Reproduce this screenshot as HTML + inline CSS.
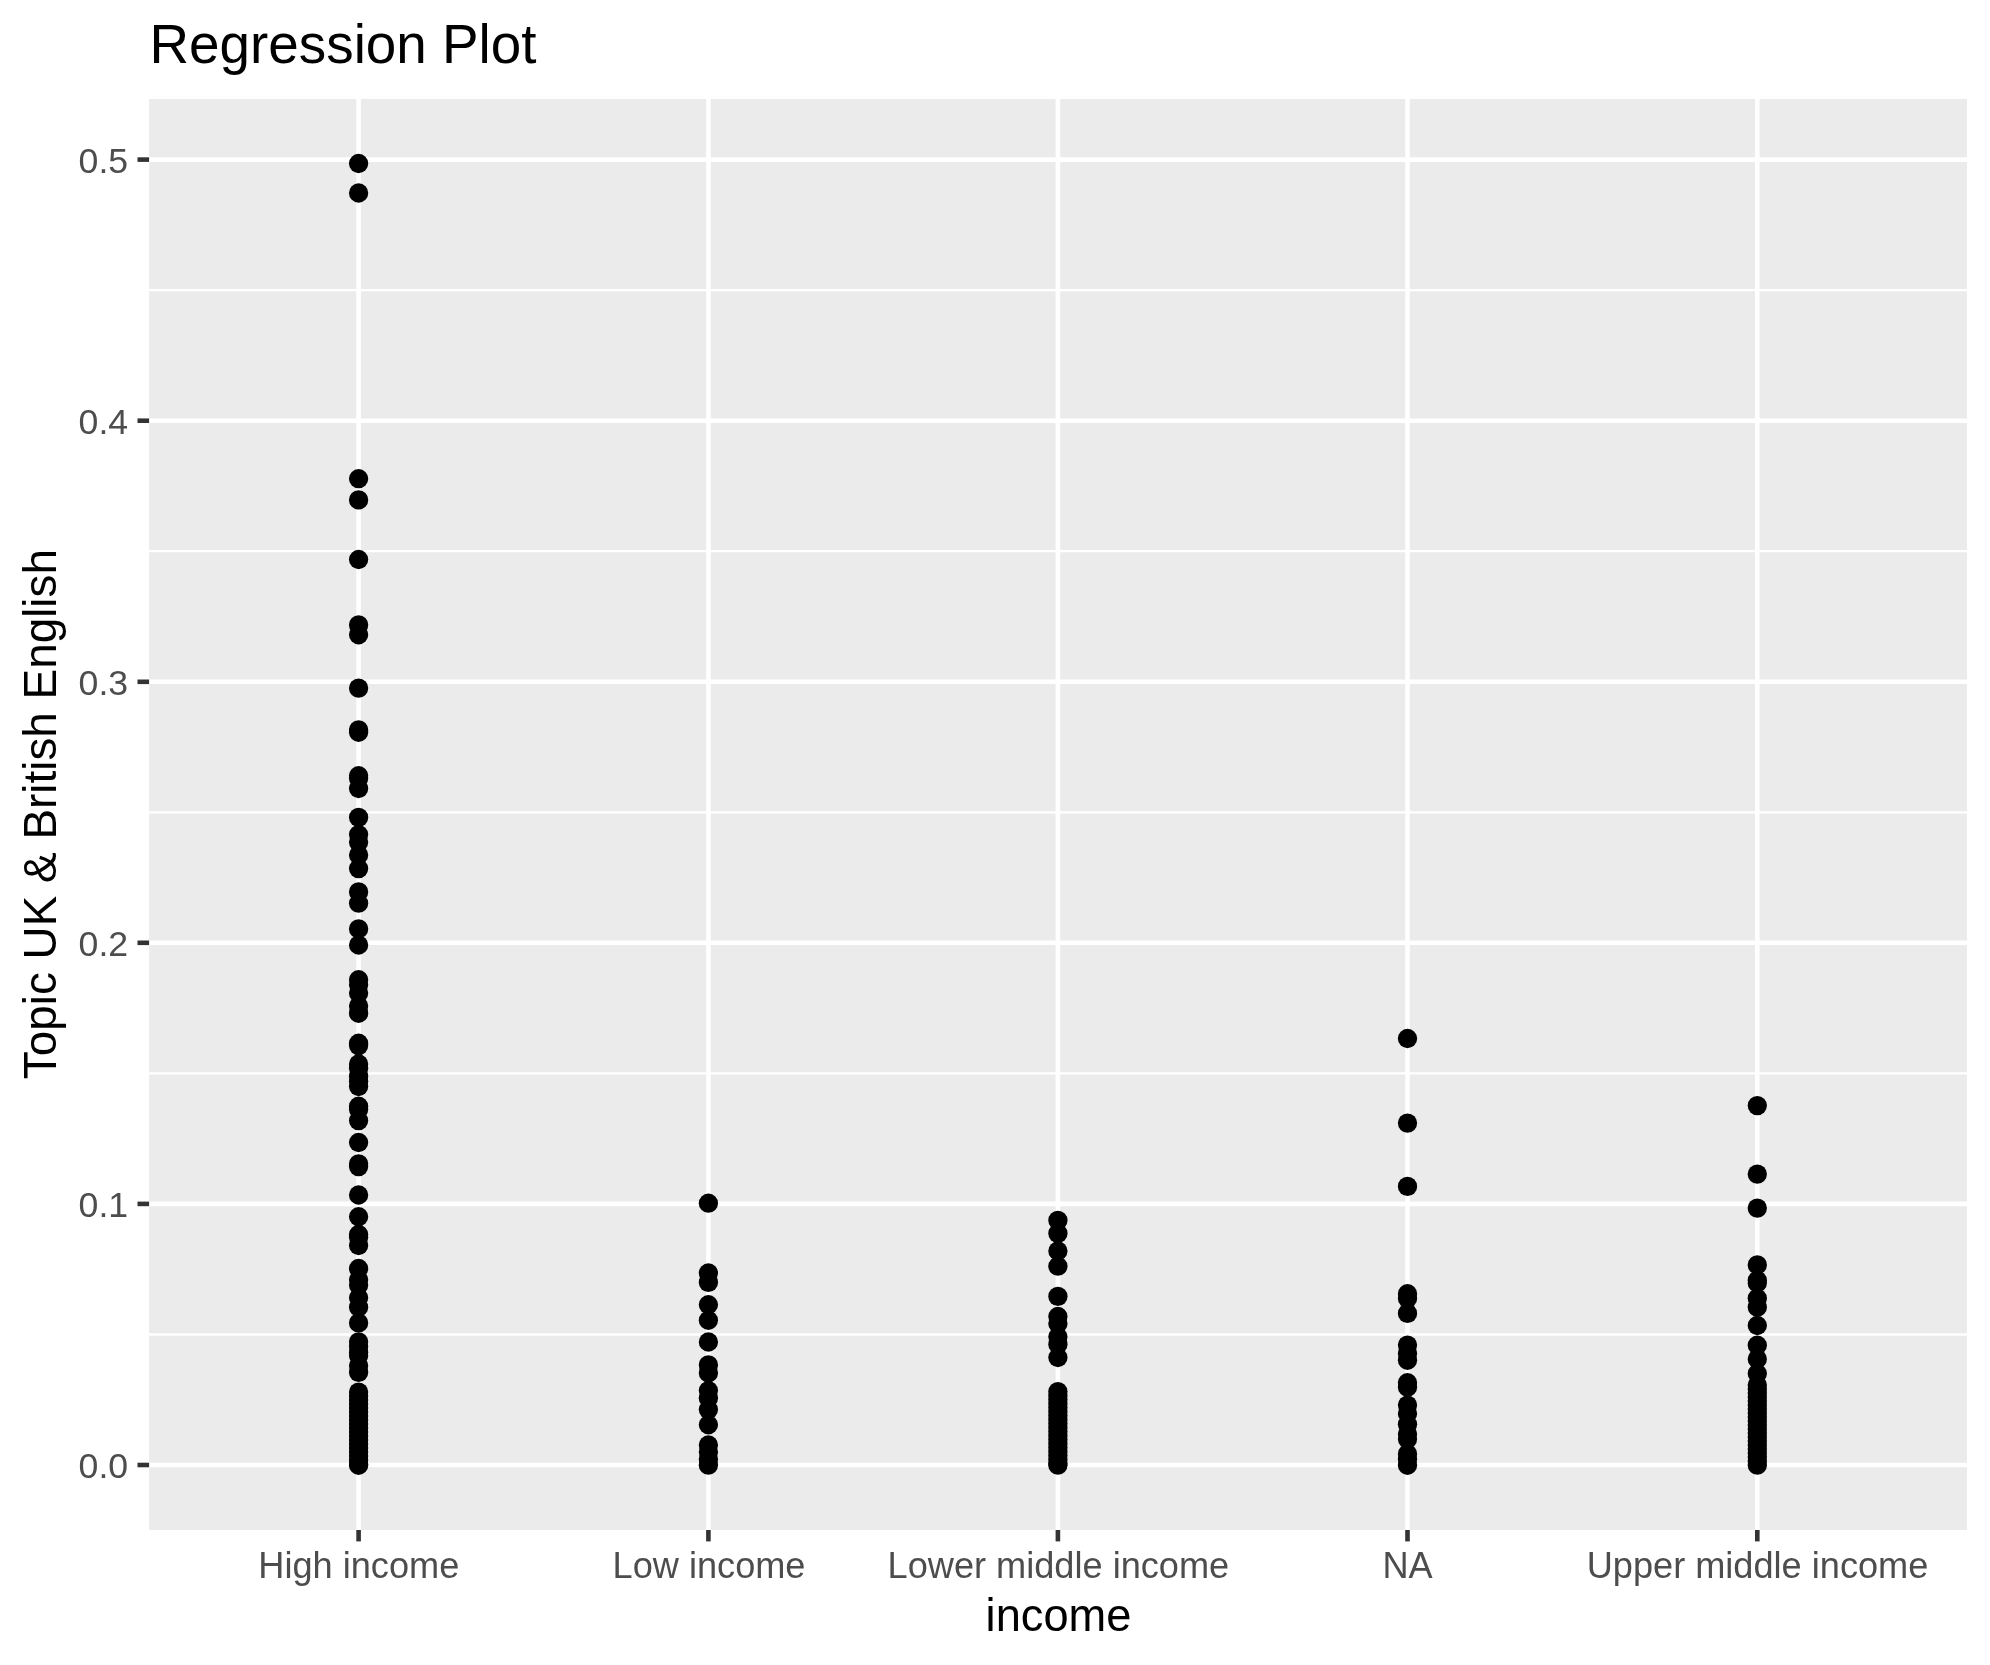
<!DOCTYPE html>
<html><head><meta charset="utf-8"><title>Regression Plot</title>
<style>
html,body{margin:0;padding:0;background:#fff;}
body{width:1990px;height:1665px;overflow:hidden;}
svg{display:block;filter:grayscale(1);}
text{font-family:"Liberation Sans",sans-serif;}
.ax{font-size:36.67px;fill:#4d4d4d;}
.tt{font-size:45.83px;fill:#000;}
.ti{font-size:55px;fill:#000;}
</style></head><body>
<svg width="1990" height="1665" viewBox="0 0 1990 1665">
<rect x="0" y="0" width="1990" height="1665" fill="#ffffff"/>
<rect x="149.1" y="99.0" width="1817.9" height="1431.0" fill="#ebebeb"/>
<g stroke="#ffffff" stroke-width="2.30">
<line x1="149.1" x2="1967.0" y1="1334.5" y2="1334.5"/>
<line x1="149.1" x2="1967.0" y1="1073.4" y2="1073.4"/>
<line x1="149.1" x2="1967.0" y1="812.3" y2="812.3"/>
<line x1="149.1" x2="1967.0" y1="551.2" y2="551.2"/>
<line x1="149.1" x2="1967.0" y1="290.1" y2="290.1"/>
</g>
<g stroke="#ffffff" stroke-width="4.60">
<line x1="149.1" x2="1967.0" y1="1465.0" y2="1465.0"/>
<line x1="149.1" x2="1967.0" y1="1203.9" y2="1203.9"/>
<line x1="149.1" x2="1967.0" y1="942.8" y2="942.8"/>
<line x1="149.1" x2="1967.0" y1="681.8" y2="681.8"/>
<line x1="149.1" x2="1967.0" y1="420.7" y2="420.7"/>
<line x1="149.1" x2="1967.0" y1="159.6" y2="159.6"/>
<line x1="358.6" x2="358.6" y1="99.0" y2="1530.0"/>
<line x1="708.4" x2="708.4" y1="99.0" y2="1530.0"/>
<line x1="1057.9" x2="1057.9" y1="99.0" y2="1530.0"/>
<line x1="1407.5" x2="1407.5" y1="99.0" y2="1530.0"/>
<line x1="1757.3" x2="1757.3" y1="99.0" y2="1530.0"/>
</g>
<g fill="#000000">
<circle cx="358.6" cy="163.5" r="9.65"/>
<circle cx="358.6" cy="193.0" r="9.65"/>
<circle cx="358.6" cy="478.7" r="9.65"/>
<circle cx="358.6" cy="499.9" r="9.65"/>
<circle cx="358.6" cy="559.5" r="9.65"/>
<circle cx="358.6" cy="624.9" r="9.65"/>
<circle cx="358.6" cy="634.8" r="9.65"/>
<circle cx="358.6" cy="688.1" r="9.65"/>
<circle cx="358.6" cy="729.9" r="9.65"/>
<circle cx="358.6" cy="732.3" r="9.65"/>
<circle cx="358.6" cy="775.7" r="9.65"/>
<circle cx="358.6" cy="778.5" r="9.65"/>
<circle cx="358.6" cy="788.5" r="9.65"/>
<circle cx="358.6" cy="817.4" r="9.65"/>
<circle cx="358.6" cy="834.6" r="9.65"/>
<circle cx="358.6" cy="842.1" r="9.65"/>
<circle cx="358.6" cy="855.0" r="9.65"/>
<circle cx="358.6" cy="868.6" r="9.65"/>
<circle cx="358.6" cy="891.9" r="9.65"/>
<circle cx="358.6" cy="903.2" r="9.65"/>
<circle cx="358.6" cy="928.9" r="9.65"/>
<circle cx="358.6" cy="945.0" r="9.65"/>
<circle cx="358.6" cy="979.7" r="9.65"/>
<circle cx="358.6" cy="984.8" r="9.65"/>
<circle cx="358.6" cy="993.0" r="9.65"/>
<circle cx="358.6" cy="1006.1" r="9.65"/>
<circle cx="358.6" cy="1013.3" r="9.65"/>
<circle cx="358.6" cy="1043.2" r="9.65"/>
<circle cx="358.6" cy="1045.6" r="9.65"/>
<circle cx="358.6" cy="1064.0" r="9.65"/>
<circle cx="358.6" cy="1068.2" r="9.65"/>
<circle cx="358.6" cy="1076.2" r="9.65"/>
<circle cx="358.6" cy="1081.2" r="9.65"/>
<circle cx="358.6" cy="1086.5" r="9.65"/>
<circle cx="358.6" cy="1106.2" r="9.65"/>
<circle cx="358.6" cy="1109.4" r="9.65"/>
<circle cx="358.6" cy="1120.6" r="9.65"/>
<circle cx="358.6" cy="1142.5" r="9.65"/>
<circle cx="358.6" cy="1163.8" r="9.65"/>
<circle cx="358.6" cy="1166.6" r="9.65"/>
<circle cx="358.6" cy="1195.0" r="9.65"/>
<circle cx="358.6" cy="1216.7" r="9.65"/>
<circle cx="358.6" cy="1234.5" r="9.65"/>
<circle cx="358.6" cy="1237.2" r="9.65"/>
<circle cx="358.6" cy="1245.5" r="9.65"/>
<circle cx="358.6" cy="1268.5" r="9.65"/>
<circle cx="358.6" cy="1279.7" r="9.65"/>
<circle cx="358.6" cy="1285.1" r="9.65"/>
<circle cx="358.6" cy="1297.8" r="9.65"/>
<circle cx="358.6" cy="1307.3" r="9.65"/>
<circle cx="358.6" cy="1322.9" r="9.65"/>
<circle cx="358.6" cy="1341.8" r="9.65"/>
<circle cx="358.6" cy="1346.6" r="9.65"/>
<circle cx="358.6" cy="1352.2" r="9.65"/>
<circle cx="358.6" cy="1355.7" r="9.65"/>
<circle cx="358.6" cy="1365.8" r="9.65"/>
<circle cx="358.6" cy="1372.4" r="9.65"/>
<circle cx="358.6" cy="1392.1" r="9.65"/>
<circle cx="358.6" cy="1396.1" r="9.65"/>
<circle cx="358.6" cy="1400.1" r="9.65"/>
<circle cx="358.6" cy="1404.1" r="9.65"/>
<circle cx="358.6" cy="1408.1" r="9.65"/>
<circle cx="358.6" cy="1412.1" r="9.65"/>
<circle cx="358.6" cy="1416.1" r="9.65"/>
<circle cx="358.6" cy="1420.1" r="9.65"/>
<circle cx="358.6" cy="1424.1" r="9.65"/>
<circle cx="358.6" cy="1428.1" r="9.65"/>
<circle cx="358.6" cy="1432.1" r="9.65"/>
<circle cx="358.6" cy="1436.1" r="9.65"/>
<circle cx="358.6" cy="1440.1" r="9.65"/>
<circle cx="358.6" cy="1444.1" r="9.65"/>
<circle cx="358.6" cy="1448.1" r="9.65"/>
<circle cx="358.6" cy="1452.1" r="9.65"/>
<circle cx="358.6" cy="1456.1" r="9.65"/>
<circle cx="358.6" cy="1460.1" r="9.65"/>
<circle cx="358.6" cy="1464.1" r="9.65"/>
<circle cx="358.6" cy="1465.3" r="9.65"/>
<circle cx="708.4" cy="1203.2" r="9.65"/>
<circle cx="708.4" cy="1273.0" r="9.65"/>
<circle cx="708.4" cy="1282.4" r="9.65"/>
<circle cx="708.4" cy="1304.7" r="9.65"/>
<circle cx="708.4" cy="1320.3" r="9.65"/>
<circle cx="708.4" cy="1342.0" r="9.65"/>
<circle cx="708.4" cy="1364.9" r="9.65"/>
<circle cx="708.4" cy="1372.9" r="9.65"/>
<circle cx="708.4" cy="1390.6" r="9.65"/>
<circle cx="708.4" cy="1398.2" r="9.65"/>
<circle cx="708.4" cy="1409.6" r="9.65"/>
<circle cx="708.4" cy="1424.8" r="9.65"/>
<circle cx="708.4" cy="1445.0" r="9.65"/>
<circle cx="708.4" cy="1452.0" r="9.65"/>
<circle cx="708.4" cy="1459.6" r="9.65"/>
<circle cx="708.4" cy="1465.2" r="9.65"/>
<circle cx="1057.9" cy="1220.4" r="9.65"/>
<circle cx="1057.9" cy="1233.4" r="9.65"/>
<circle cx="1057.9" cy="1251.0" r="9.65"/>
<circle cx="1057.9" cy="1266.2" r="9.65"/>
<circle cx="1057.9" cy="1296.4" r="9.65"/>
<circle cx="1057.9" cy="1316.5" r="9.65"/>
<circle cx="1057.9" cy="1323.7" r="9.65"/>
<circle cx="1057.9" cy="1336.8" r="9.65"/>
<circle cx="1057.9" cy="1344.4" r="9.65"/>
<circle cx="1057.9" cy="1357.5" r="9.65"/>
<circle cx="1057.9" cy="1391.6" r="9.65"/>
<circle cx="1057.9" cy="1395.6" r="9.65"/>
<circle cx="1057.9" cy="1399.6" r="9.65"/>
<circle cx="1057.9" cy="1403.6" r="9.65"/>
<circle cx="1057.9" cy="1407.6" r="9.65"/>
<circle cx="1057.9" cy="1411.6" r="9.65"/>
<circle cx="1057.9" cy="1415.6" r="9.65"/>
<circle cx="1057.9" cy="1419.6" r="9.65"/>
<circle cx="1057.9" cy="1423.6" r="9.65"/>
<circle cx="1057.9" cy="1427.6" r="9.65"/>
<circle cx="1057.9" cy="1431.6" r="9.65"/>
<circle cx="1057.9" cy="1435.6" r="9.65"/>
<circle cx="1057.9" cy="1439.6" r="9.65"/>
<circle cx="1057.9" cy="1443.6" r="9.65"/>
<circle cx="1057.9" cy="1447.6" r="9.65"/>
<circle cx="1057.9" cy="1451.6" r="9.65"/>
<circle cx="1057.9" cy="1455.6" r="9.65"/>
<circle cx="1057.9" cy="1459.6" r="9.65"/>
<circle cx="1057.9" cy="1463.6" r="9.65"/>
<circle cx="1057.9" cy="1465.2" r="9.65"/>
<circle cx="1407.5" cy="1038.5" r="9.65"/>
<circle cx="1407.5" cy="1123.1" r="9.65"/>
<circle cx="1407.5" cy="1186.4" r="9.65"/>
<circle cx="1407.5" cy="1293.7" r="9.65"/>
<circle cx="1407.5" cy="1298.4" r="9.65"/>
<circle cx="1407.5" cy="1313.4" r="9.65"/>
<circle cx="1407.5" cy="1345.1" r="9.65"/>
<circle cx="1407.5" cy="1353.6" r="9.65"/>
<circle cx="1407.5" cy="1360.3" r="9.65"/>
<circle cx="1407.5" cy="1382.7" r="9.65"/>
<circle cx="1407.5" cy="1387.2" r="9.65"/>
<circle cx="1407.5" cy="1405.1" r="9.65"/>
<circle cx="1407.5" cy="1413.7" r="9.65"/>
<circle cx="1407.5" cy="1424.2" r="9.65"/>
<circle cx="1407.5" cy="1434.0" r="9.65"/>
<circle cx="1407.5" cy="1439.1" r="9.65"/>
<circle cx="1407.5" cy="1453.9" r="9.65"/>
<circle cx="1407.5" cy="1459.3" r="9.65"/>
<circle cx="1407.5" cy="1465.3" r="9.65"/>
<circle cx="1757.3" cy="1105.6" r="9.65"/>
<circle cx="1757.3" cy="1174.1" r="9.65"/>
<circle cx="1757.3" cy="1208.1" r="9.65"/>
<circle cx="1757.3" cy="1264.9" r="9.65"/>
<circle cx="1757.3" cy="1280.3" r="9.65"/>
<circle cx="1757.3" cy="1283.0" r="9.65"/>
<circle cx="1757.3" cy="1298.4" r="9.65"/>
<circle cx="1757.3" cy="1307.2" r="9.65"/>
<circle cx="1757.3" cy="1325.5" r="9.65"/>
<circle cx="1757.3" cy="1345.2" r="9.65"/>
<circle cx="1757.3" cy="1359.0" r="9.65"/>
<circle cx="1757.3" cy="1373.6" r="9.65"/>
<circle cx="1757.3" cy="1385.0" r="9.65"/>
<circle cx="1757.3" cy="1389.0" r="9.65"/>
<circle cx="1757.3" cy="1393.0" r="9.65"/>
<circle cx="1757.3" cy="1397.0" r="9.65"/>
<circle cx="1757.3" cy="1401.0" r="9.65"/>
<circle cx="1757.3" cy="1405.0" r="9.65"/>
<circle cx="1757.3" cy="1409.0" r="9.65"/>
<circle cx="1757.3" cy="1413.0" r="9.65"/>
<circle cx="1757.3" cy="1417.0" r="9.65"/>
<circle cx="1757.3" cy="1421.0" r="9.65"/>
<circle cx="1757.3" cy="1425.0" r="9.65"/>
<circle cx="1757.3" cy="1429.0" r="9.65"/>
<circle cx="1757.3" cy="1433.0" r="9.65"/>
<circle cx="1757.3" cy="1437.0" r="9.65"/>
<circle cx="1757.3" cy="1441.0" r="9.65"/>
<circle cx="1757.3" cy="1445.0" r="9.65"/>
<circle cx="1757.3" cy="1449.0" r="9.65"/>
<circle cx="1757.3" cy="1453.0" r="9.65"/>
<circle cx="1757.3" cy="1457.0" r="9.65"/>
<circle cx="1757.3" cy="1461.0" r="9.65"/>
<circle cx="1757.3" cy="1465.2" r="9.65"/>
</g>
<g stroke="#333333" stroke-width="4.60">
<line x1="137.5" x2="149.1" y1="1465.0" y2="1465.0"/>
<line x1="137.5" x2="149.1" y1="1203.9" y2="1203.9"/>
<line x1="137.5" x2="149.1" y1="942.8" y2="942.8"/>
<line x1="137.5" x2="149.1" y1="681.8" y2="681.8"/>
<line x1="137.5" x2="149.1" y1="420.7" y2="420.7"/>
<line x1="137.5" x2="149.1" y1="159.6" y2="159.6"/>
<line x1="358.6" x2="358.6" y1="1530.0" y2="1541.4"/>
<line x1="708.4" x2="708.4" y1="1530.0" y2="1541.4"/>
<line x1="1057.9" x2="1057.9" y1="1530.0" y2="1541.4"/>
<line x1="1407.5" x2="1407.5" y1="1530.0" y2="1541.4"/>
<line x1="1757.3" x2="1757.3" y1="1530.0" y2="1541.4"/>
</g>
<g class="ax" text-anchor="end">
<text transform="translate(128.1,1478.4) scale(0.972,0.965)">0.0</text>
<text transform="translate(128.1,1217.3) scale(0.972,0.965)">0.1</text>
<text transform="translate(128.1,956.2) scale(0.972,0.965)">0.2</text>
<text transform="translate(128.1,695.2) scale(0.972,0.965)">0.3</text>
<text transform="translate(128.1,434.1) scale(0.972,0.965)">0.4</text>
<text transform="translate(128.1,173.0) scale(0.972,0.965)">0.5</text>
</g>
<g class="ax" text-anchor="middle">
<text transform="translate(358.8,1577.9) scale(0.986,1)">High income</text>
<text transform="translate(709.0,1577.9) scale(0.986,1)">Low income</text>
<text transform="translate(1058.4,1577.9) scale(0.986,1)">Lower middle income</text>
<text transform="translate(1407.5,1577.9) scale(0.986,1)">NA</text>
<text transform="translate(1757.5,1577.9) scale(0.986,1)">Upper middle income</text>
</g>
<text class="tt" text-anchor="middle" transform="translate(1058.5,1630.9) scale(0.9874,1)">income</text>
<text class="tt" text-anchor="middle" transform="translate(55.8,814.1) rotate(-90) scale(1.001,1)">Topic UK &amp; British English</text>
<text class="ti" transform="translate(149.5,62.9) scale(0.997,1)">Regression Plot</text>
</svg>
</body></html>
